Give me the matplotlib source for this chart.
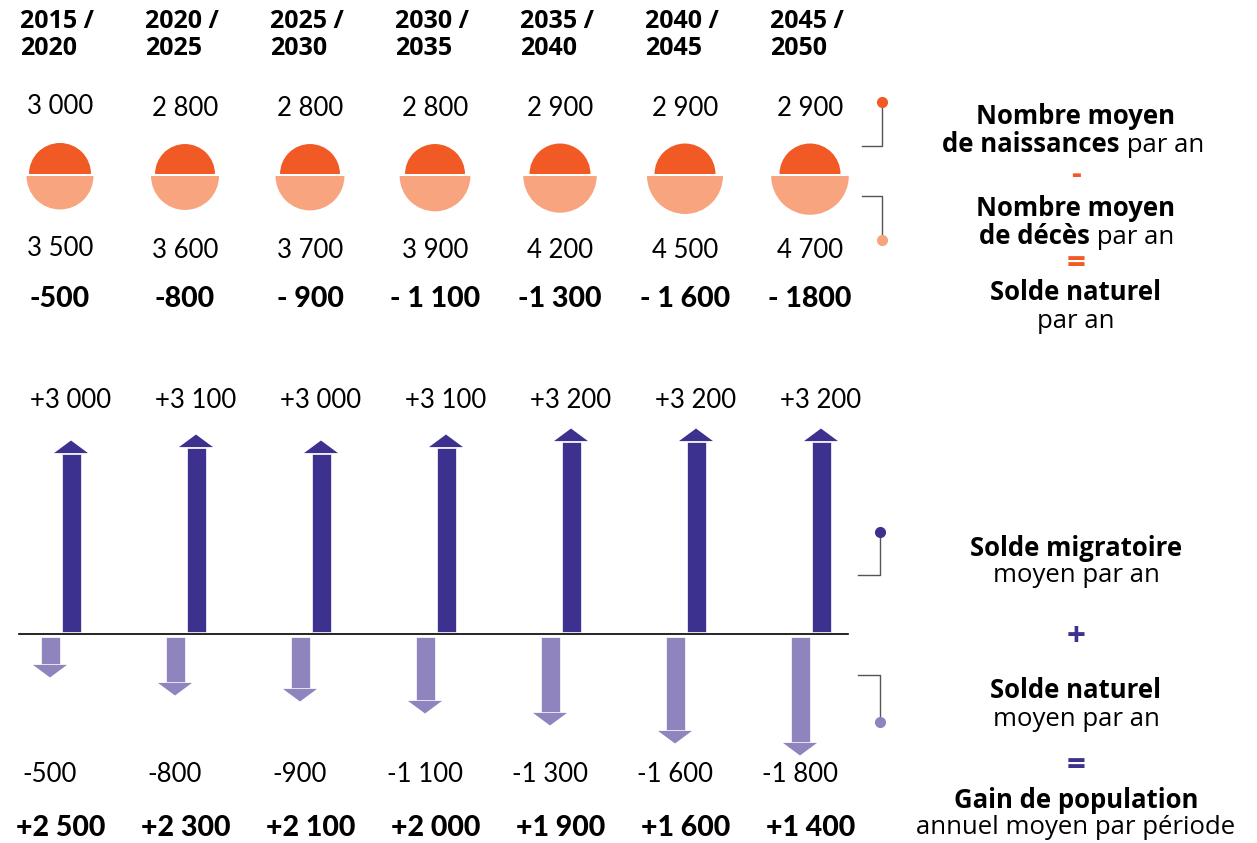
import numpy as np
import matplotlib
matplotlib.use("Agg")
import matplotlib.pyplot as plt
from matplotlib.patches import Wedge

# donnees
periodes = ["2015 /\n2020", "2020 /\n2025", "2025 /\n2030", "2030 /\n2035",
            "2035 /\n2040", "2040 /\n2045", "2045 /\n2050"]
naissances = [3000, 2800, 2800, 2800, 2900, 2900, 2900]
deces = [3500, 3600, 3700, 3900, 4200, 4500, 4700]
solde_nat_lbl = ["-500", "-800", "- 900", "- 1 100", "-1 300", "- 1 600", "- 1800"]
migration = [3000, 3100, 3000, 3100, 3200, 3200, 3200]
solde_nat = [-500, -800, -900, -1100, -1300, -1600, -1800]
gain = [2500, 2300, 2100, 2000, 1900, 1600, 1400]

ORANGE = "#F15A24"
ORANGE_L = "#F7A47F"
VIOLET = "#3C318F"
VIOLET_L = "#8F84BE"

def fmt(v, plus=False):
    s = f"{abs(v):,}".replace(",", " ")
    if v < 0:
        s = "-" + s
    elif plus:
        s = "+" + s
    return s

NUM = "Lato"
TXT = "Open Sans"

W, H = 1257, 843
fig = plt.figure(figsize=(W / 100, H / 100), dpi=100)
ax = fig.add_axes([0, 0, 1, 1])
ax.set_xlim(0, W)
ax.set_ylim(H, 0)
ax.axis("off")

# axe des fleches : 0 au pixel 634, 0.06 px par habitant
px = 0.06
ax2 = fig.add_axes([0, 0, 1, 1], zorder=0)
ax2.set_xlim(0, W)
ax2.set_ylim(-(H - 634) / px, 634 / px)
ax2.axis("off")
ax2.patch.set_alpha(0)

n = len(periodes)
cx = [60 + 125 * i for i in range(n)]
k = 31 / np.sqrt(3000)

for i in range(n):
    c = cx[i]
    ax.text(c - 40, 9, periodes[i], fontsize=18, fontweight="bold", family=TXT,
            ha="left", va="top", linespacing=1.12)
    yb = 106 if i == 0 else 109
    ax.text(c, yb, fmt(naissances[i]), fontsize=18.5, family=NUM,
            ha="center", va="center")
    ax.text(c, yb + 142, fmt(deces[i]), fontsize=18.5, family=NUM,
            ha="center", va="center")
    ax.text(c, 299, solde_nat_lbl[i], fontsize=20.5, family=NUM, fontweight="black",
            ha="center", va="center")
    # demi-cercles
    ax.add_patch(Wedge((c, 174), k * np.sqrt(naissances[i]), 180, 360, color=ORANGE, lw=0))
    ax.add_patch(Wedge((c, 176), k * np.sqrt(deces[i]), 0, 180, color=ORANGE_L, lw=0))

    # fleches
    xu = c + 11
    xd = c - 10
    ax2.bar(xu, migration[i] - 33, bottom=33, width=19, color=VIOLET,
            edgecolor="white", linewidth=0.5)
    m = migration[i] + 15
    ax2.fill([xu - 17, xu + 17, xu], [m, m, m + 210], color=VIOLET, lw=0)
    ax2.bar(xd, solde_nat[i] + 50, bottom=-50, width=19, color=VIOLET_L,
            edgecolor="white", linewidth=0.5)
    s = solde_nat[i] - 15
    ax2.fill([xd - 17, xd + 17, xd], [s, s, s - 210], color=VIOLET_L, lw=0)

    ax.text(xu, 400, fmt(migration[i], plus=True), fontsize=18.5, family=NUM,
            ha="center", va="center")
    ax.text(xd, 775, fmt(solde_nat[i]), fontsize=18.5, family=NUM,
            ha="center", va="center")
    ax.text(c + 1, 828, fmt(gain[i], plus=True), fontsize=20.5, family=NUM,
            fontweight="black", ha="center", va="center")

ax2.axhline(0, xmin=19 / W, xmax=848 / W, color="black", lw=1.2)

# legende
ax.plot([882, 882, 862], [102, 146, 146], color="#555555", lw=1)
ax.plot(882, 102, "o", color=ORANGE, ms=7)
ax.plot([862, 882, 882], [196, 196, 240], color="#555555", lw=1)
ax.plot(882, 240, "o", color=ORANGE_L, ms=7)
ax.plot([880, 880, 858], [532, 575, 575], color="#555555", lw=1)
ax.plot(880, 532, "o", color=VIOLET, ms=7)
ax.plot([858, 880, 880], [675, 675, 722], color="#555555", lw=1)
ax.plot(880, 722, "o", color=VIOLET_L, ms=7)

LX = 1076
fs = 18.5
def lg(y, s, bold=False, color="black", x=LX, ha="center", size=fs):
    ax.text(x, y, s, fontsize=size, family=TXT, fontweight="bold" if bold else "normal",
            color=color, ha=ha, va="center")

lg(117, "Nombre moyen", True)
lg(145, "de naissances", True, x=1120, ha="right")
lg(145, " par an", x=1120, ha="left")
lg(175, "-", True, color=ORANGE, size=22)
lg(208, "Nombre moyen", True)
lg(237, "de décès", True, x=1090, ha="right")
lg(237, " par an", x=1090, ha="left")
lg(265, "=", True, color=ORANGE, size=24)
lg(293, "Solde naturel", True)
lg(321, "par an")

lg(548, "Solde migratoire", True)
lg(576, "moyen par an")
lg(637, "+", True, color=VIOLET, size=24)
lg(691, "Solde naturel", True)
lg(719, "moyen par an")
lg(766, "=", True, color=VIOLET, size=24)
lg(800, "Gain de population", True)
lg(828, "annuel moyen par période")

fig.savefig("out.png", dpi=100)
